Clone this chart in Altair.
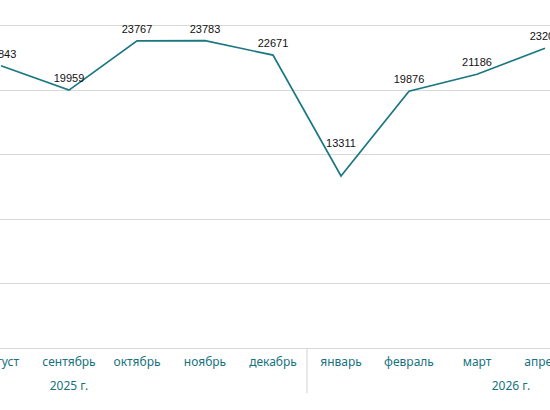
import altair as alt
import pandas as pd

months = ["август", "сентябрь", "октябрь", "ноябрь", "декабрь", "январь", "февраль", "март", "апрель"]
values = [21843, 19959, 23767, 23783, 22671, 13311, 19876, 21186, 23205]
years = ["2025 г.", "2026 г."]
year_anchor = ["сентябрь", "апрель"]
y_ticks = [0, 5000, 10000, 15000, 20000, 25000]

df = pd.DataFrame({"month": months, "value": values})
ydf = pd.DataFrame({"year": years, "month": year_anchor})
sepdf = pd.DataFrame({"month": ["январь"]})

TEAL = "#17727e"
LINE = "#1a7681"

xscale = alt.Scale(domain=months, range=[-33, 579], paddingInner=0, paddingOuter=0)
yscale = alt.Scale(domain=[0, 26935], nice=False, zero=True)

base = alt.Chart(df)

line = base.mark_line(color=LINE, strokeWidth=1.7).encode(
    x=alt.X("month:N", scale=xscale, sort=months,
            axis=alt.Axis(title=None, domain=False, ticks=False, labelAngle=0,
                          labelColor=TEAL, labelFont="Noto Sans", labelFontSize=12,
                          labelPadding=8)),
    y=alt.Y("value:Q", scale=yscale,
            axis=alt.Axis(title=None, values=y_ticks, labels=False, ticks=False,
                          domain=False, grid=True, gridColor="#d9d9d9", gridWidth=1)),
)

labels = base.transform_filter(alt.datum.value > 15000).mark_text(
    font="Liberation Sans", fontSize=11, color="#111111", dy=-11, baseline="middle"
).encode(
    x=alt.X("month:N", scale=xscale, sort=months),
    y=alt.Y("value:Q", scale=yscale),
    text=alt.Text("value:Q", format="d"),
)

labels_low = base.transform_filter(alt.datum.value <= 15000).mark_text(
    font="Liberation Sans", fontSize=11, color="#111111", dy=-32, baseline="middle"
).encode(
    x=alt.X("month:N", scale=xscale, sort=months),
    y=alt.Y("value:Q", scale=yscale),
    text=alt.Text("value:Q", format="d"),
)

sep = alt.Chart(sepdf).mark_rule(color="#d0d0d0", strokeWidth=1).encode(
    x=alt.X("month:N", scale=xscale, sort=months, bandPosition=0),
    y=alt.value(348),
    y2=alt.value(393),
)

year1 = alt.Chart(ydf).transform_filter(alt.datum.year == "2025 г.").mark_text(
    font="Noto Sans", fontSize=12, color=TEAL, baseline="middle"
).encode(
    x=alt.X("month:N", scale=xscale, sort=months, bandPosition=0.5),
    y=alt.value(386),
    text="year:N",
)

year2 = alt.Chart(ydf).transform_filter(alt.datum.year == "2026 г.").mark_text(
    font="Noto Sans", fontSize=12, color=TEAL, baseline="middle"
).encode(
    x=alt.X("month:N", scale=xscale, sort=months, bandPosition=0),
    y=alt.value(386),
    text="year:N",
)

chart = alt.layer(line, labels, labels_low, sep, year1, year2).properties(
    width=550,
    height=348,
    autosize=alt.AutoSizeParams(type="none"),
    padding={"left": 0, "right": 0, "top": 0, "bottom": 62},
    background="white",
).configure_view(stroke=None)

chart.save("out.html", embed_options={"renderer": "svg", "actions": False})
